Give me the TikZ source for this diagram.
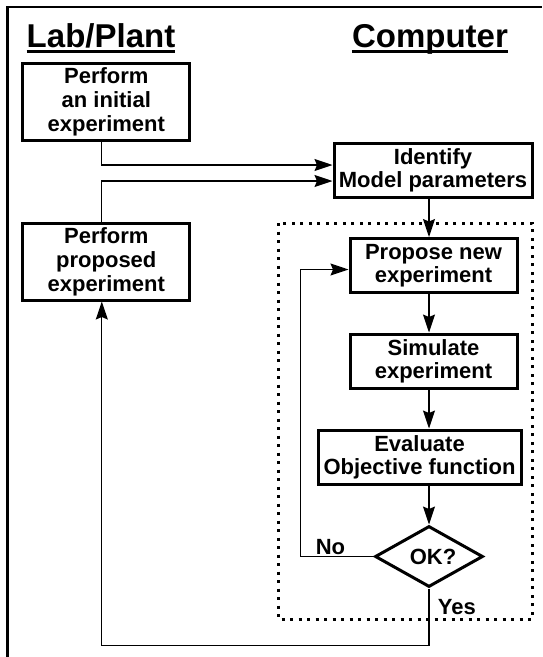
\documentclass[tikz,border=0pt]{standalone}
\usepackage{fontspec}
\setmainfont{Liberation Sans}
\usetikzlibrary{arrows.meta,shapes.geometric}

\begin{document}
\begin{tikzpicture}[x=1pt,y=-1pt,font=\bfseries\fontsize{22}{23}\selectfont]
		\tikzstyle{block} =[draw, line width=3pt, align=center, minimum height=54pt, inner sep=3pt];
		\tikzstyle{tallblock} =[block, minimum width=167pt, minimum height=77pt, font=\bfseries\fontsize{22}{24}\selectfont];
		\tikzstyle{decision} =[draw, diamond, aspect=1.77, inner sep=0pt, line width=3pt, minimum width=108pt, minimum height=61pt];
		\tikzstyle{heading} =[inner sep=0pt, anchor=base, font=\bfseries\fontsize{33}{36}\selectfont];
		\tikzstyle{line} =[line width=1.2pt, -{Stealth[length=18pt,width=12pt,inset=2.5pt]}];
		\tikzstyle{group} =[line width=3pt, dash pattern=on 3pt off 5.5pt];
		\useasboundingbox (0,0) rectangle (542,657);
		\draw[line width=2.5pt] (7.6,657) -- (7.6,7) -- (542,7);
		
		% column headings
		\node[heading] (lab) at (101,47) {Lab/Plant};
		\node[heading] (computer) at (430,47) {Computer};
		\draw[line width=3pt] ([yshift=-4.5pt]lab.base west) -- ([yshift=-4.5pt]lab.base east);
		\draw[line width=3pt] ([yshift=-4.5pt]computer.base west) -- ([yshift=-4.5pt]computer.base east);
		
		\node[tallblock] (initial) at (106.3,101.5) {Perform\\an initial\\experiment};
		\node[tallblock, below of = initial, node distance=160pt] (proposed) {Perform\\proposed\\experiment};
		
		\node[block, minimum width=198pt] (ident) at (433,170) {Identify\\Model parameters};
		\node[block, minimum width=167pt, below of = ident, node distance=95.5pt, xshift=0.5pt] (propose) {Propose new\\experiment};
		\node[block, minimum width=167pt, below of = propose, node distance=95.5pt] (simulate) {Simulate\\experiment};
		\node[block, minimum width=203pt, below of = simulate, node distance=96pt, xshift=-14pt] (evaluate) {Evaluate\\Objective function};
		\node[decision, below of = simulate, node distance=195.5pt, xshift=-4.5pt] (ok) {\hspace{8pt}OK?};
		
		\draw[group] (278,223) rectangle (532,619);
		
		\draw[line] ([xshift=-4.5pt]initial.south) |- ([yshift=5pt]ident.west);
		\draw[line] ([xshift=-4.5pt]proposed.north) |- ([yshift=-11pt]ident.west);
		\draw[line] (ident.south -| ok.north) -- (propose.north -| ok.north);
		\draw[line] (propose.south -| ok.north) -- (simulate.north -| ok.north);
		\draw[line] (simulate.south -| ok.north) -- (evaluate.north -| ok.north);
		\draw[line] (evaluate.south -| ok.north) -- (ok.north);
		\draw[line] (ok.west) -- node[pos=0.59, above, inner sep=1pt] {No} ++(-73,0) |- ([yshift=-4pt]propose.west);
		\draw[line] (ok.south) -- node[pos=0.32, right, xshift=5pt] {Yes} ++(0,57) -| ([xshift=-4.5pt]proposed.south);
	\end{tikzpicture}
\end{document}
